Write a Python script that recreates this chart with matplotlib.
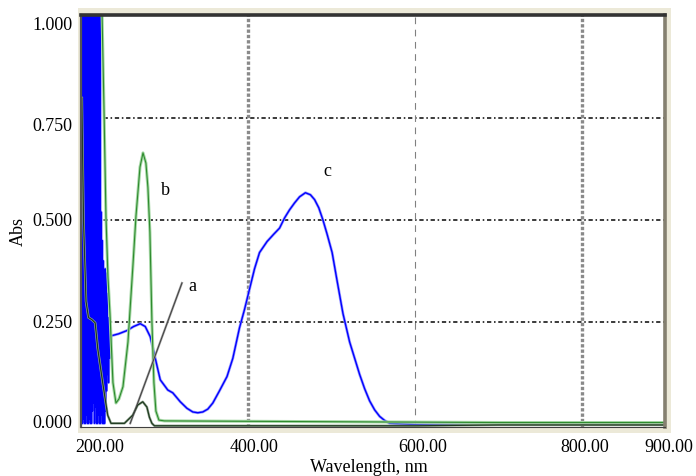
import matplotlib
matplotlib.use("Agg")
import matplotlib.pyplot as plt
from matplotlib.patches import Rectangle
from matplotlib.transforms import ScaledTranslation

# ---------------- data ----------------
# curve c (blue): noisy region below ~236 nm, then smooth spectrum
c_noise_nm = [200.0, 200.6, 201.2, 201.8, 202.4, 203.0, 203.6, 204.2, 204.8, 205.4,
              206.0, 206.6, 207.2, 207.8, 208.4, 209.0, 209.6, 210.2, 210.8, 211.4,
              212.0, 212.6, 213.2, 213.8, 214.4, 215.0, 215.6, 216.2, 216.8, 217.4,
              218.0, 218.6, 219.2, 219.8, 220.4, 221.0, 221.6, 222.2, 222.8, 223.4,
              224.0, 224.6, 225.2, 225.8, 226.4, 227.0, 227.6, 228.2, 228.8, 229.4,
              230.0, 230.6, 231.2, 231.8, 232.4, 233.0, 233.6, 234.2, 234.8, 235.4]
c_noise_abs = [1.05, 0.00, 1.05, 0.00, 1.05, 0.01, 1.05, 0.00, 1.05, 0.00,
               1.05, 0.02, 1.05, 0.00, 1.05, 0.00, 1.05, 0.01, 1.05, 0.00,
               1.05, 0.00, 1.05, 0.03, 0.82, 0.05, 1.05, 0.00, 0.78, 0.04,
               1.05, 0.00, 1.05, 0.00, 1.05, 0.02, 1.05, 0.00, 1.05, 0.00,
               0.52, 0.02, 0.45, 0.00, 0.40, 0.00, 0.36, 0.00, 0.38, 0.03,
               0.37, 0.08, 0.32, 0.12, 0.26, 0.10, 0.24, 0.16, 0.23, 0.19]
c_nm = [236, 245, 255, 263, 271, 277, 283, 289, 295, 304, 310, 319, 327, 334, 340,
        346, 352, 358, 366, 375, 382, 390, 396, 402, 408, 414, 423, 431, 438, 444,
        450, 456, 462, 469, 475, 480, 485, 490, 495, 501, 507, 514, 522, 528, 534,
        540, 546, 552, 558, 564, 570, 600, 700, 800, 900]
c_abs = [0.215, 0.220, 0.228, 0.238, 0.245, 0.238, 0.213, 0.160, 0.107, 0.082,
         0.075, 0.053, 0.037, 0.028, 0.026, 0.028, 0.035, 0.050, 0.080, 0.115,
         0.160, 0.235, 0.280, 0.330, 0.380, 0.420, 0.447, 0.465, 0.480, 0.505,
         0.525, 0.542, 0.557, 0.567, 0.562, 0.550, 0.530, 0.500, 0.465, 0.420,
         0.350, 0.270, 0.200, 0.160, 0.120, 0.085, 0.055, 0.033, 0.017, 0.007,
         0.000, -0.003, -0.003, -0.003, -0.003]

# curve b (green)
b_nm = [222.0, 225.1, 227.5, 229.9, 232.3, 234.7, 238.3, 241.9, 245.5, 250.3,
        256.3, 262.3, 265.9, 270.7, 274.3, 277.8, 280.2, 282.6, 285.0, 287.4,
        289.8, 293.4, 300, 400, 500, 600, 700, 800, 900]
b_abs = [1.20, 1.02, 0.78, 0.51, 0.36, 0.27, 0.10, 0.05, 0.06, 0.09,
         0.20, 0.39, 0.51, 0.63, 0.665, 0.64, 0.58, 0.47, 0.25, 0.10,
         0.03, 0.008, 0.006, 0.005, 0.004, 0.003, 0.002, 0.002, 0.002]

# curve a (dark)
a_nm = [201, 203, 206, 209, 213, 217, 220, 226, 232, 236, 252, 262, 268, 274,
        279, 282, 285, 288, 400, 600, 700, 800, 900]
a_abs = [0.80, 0.50, 0.30, 0.26, 0.255, 0.247, 0.185, 0.10, 0.02, 0.0, 0.0, 0.02,
         0.045, 0.053, 0.04, 0.015, 0.0, -0.006, -0.006, -0.006, -0.004, -0.004, -0.004]

# pointer line for label "a"
a_ptr_nm = [321, 259]
a_ptr_abs = [0.345, 0.0]

labels = {"a": (334, 0.336), "b": (301.8, 0.573), "c": (495.8, 0.619)}

x_ticks = [200, 400, 600, 800, 900]
x_ticklabels = ["200.00", "400.00", "600.00", "800.00", "900.00"]
y_ticks = [0.0, 0.25, 0.5, 0.75, 1.0]
y_ticklabels = ["0.000", "0.250", "0.500", "0.750", "1.000"]
h_grid = [0.25, 0.5, 0.75]
v_grid_thick = [400, 800]
v_grid_thin = [600]

# ---------------- figure ----------------
plt.rcParams['font.family'] = ['Liberation Serif', 'DejaVu Serif']
fig = plt.figure(figsize=(6.96, 4.76), dpi=100, facecolor='white')
W, H = 696, 476
ax = fig.add_axes([81 / W, 1 - 427 / H, 584 / W, 412 / H])

# beige panel frame behind axes
fig.patches.append(Rectangle((78 / W, 1 - 433 / H), 593 / W, 425 / H,
                             transform=fig.transFigure, facecolor='#ECE9D8',
                             edgecolor='none', zorder=0))
ax.set_facecolor('white')
ax.set_zorder(1)

ax.set_xlim(200, 900)
ax.set_ylim(-0.009, 1.004)

# grid
for y in h_grid:
    ax.axhline(y, color='#3a3a3a', lw=1.4, ls=(0, (2.2, 1.4, 0.8, 1.4)), zorder=1)
for x in v_grid_thick:
    ax.axvline(x, color='#8a8a8a', lw=2.4, ls=(0, (1.0, 0.6)), zorder=1)
for x in v_grid_thin:
    ax.axvline(x, color='#808080', lw=0.8, ls=(0, (6, 5)), zorder=1)

# curve c
ax.plot(c_noise_nm + c_nm, c_noise_abs + c_abs, color='#9a9aff', lw=2.0, zorder=2)
ax.plot(c_noise_nm + c_nm, c_noise_abs + c_abs, color='#0000ff', lw=1.0, zorder=3)
# curve b
ax.plot(b_nm, b_abs, color='#a6d8a6', lw=2.2, zorder=4)
ax.plot(b_nm, b_abs, color='#2e8b2e', lw=0.8, zorder=5)
# curve a
ax.plot(a_nm, a_abs, color='#97aa97', lw=1.8, zorder=6)
ax.plot(a_nm, a_abs, color='#1f3a1f', lw=0.9, zorder=7)
# pointer for a
ax.plot(a_ptr_nm, a_ptr_abs, color='#a0a0a0', lw=1.6, zorder=6)
ax.plot(a_ptr_nm, a_ptr_abs, color='#404040', lw=0.7, zorder=7)

for k, (x, y) in labels.items():
    ax.text(x, y, k, fontsize=13, ha='center', va='center', color='black', zorder=8)

# spines
for s in ax.spines.values():
    s.set_zorder(9)
ax.spines['top'].set_color('#333333'); ax.spines['top'].set_linewidth(2.6)
ax.spines['right'].set_color('#858070'); ax.spines['right'].set_linewidth(2.6)
ax.spines['left'].set_color('#555555'); ax.spines['left'].set_linewidth(1.6)
ax.spines['bottom'].set_color('#404040'); ax.spines['bottom'].set_linewidth(0.8)

# ticks
ax.set_xticks(x_ticks)
ax.set_xticklabels(x_ticklabels, fontsize=13)
ax.set_yticks(y_ticks)
ax.set_yticklabels(y_ticklabels, fontsize=13)
ax.tick_params(axis='both', length=0)
ax.tick_params(axis='x', pad=8.5)
ax.tick_params(axis='y', pad=6)

px = 0.72 / 72.0
x_off = [18.5, 6, 7.5, 3.5, 4]
for lab, dx in zip(ax.get_xticklabels(), x_off):
    lab.set_transform(lab.get_transform() + ScaledTranslation(dx * px, 0, fig.dpi_scale_trans))
y_off = [2, 0, 0, -6, -7]
for lab, dy in zip(ax.get_yticklabels(), y_off):
    lab.set_transform(lab.get_transform() + ScaledTranslation(0, dy * px, fig.dpi_scale_trans))

fig.text(369 / W, 1 - 467 / H, "Wavelength, nm", fontsize=13, ha='center', va='center')
fig.text(18 / W, 1 - 231 / H, "Abs", fontsize=13, ha='center', va='center', rotation=90)

fig.savefig("out.png", dpi=100, facecolor='white')
